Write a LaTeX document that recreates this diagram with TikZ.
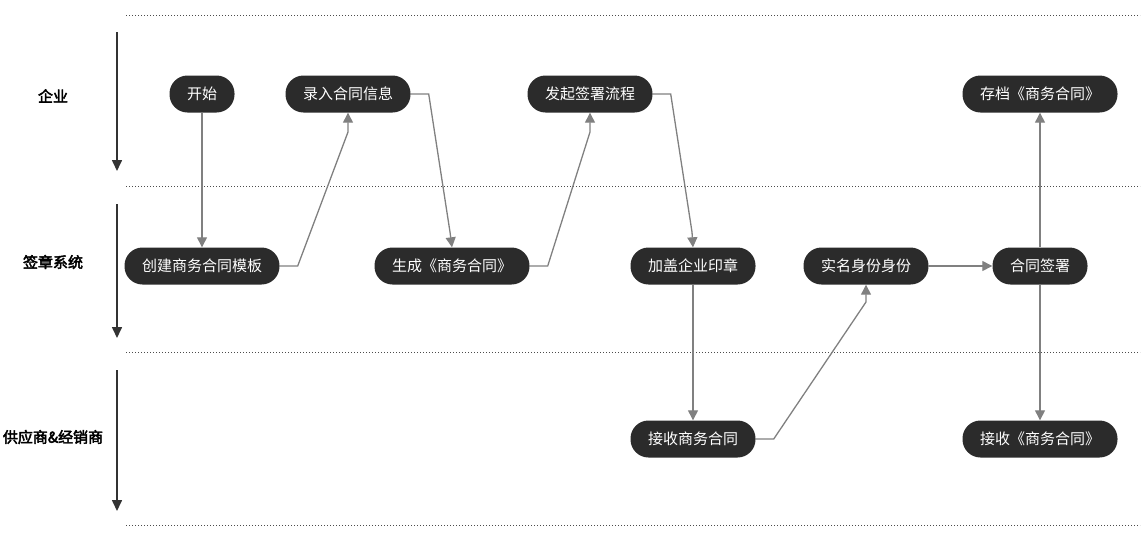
\documentclass[tikz,border=0pt]{standalone}
\usepackage{fontspec}
\setmainfont{Noto Sans CJK SC}
\newfontfamily\cjkb[AutoFakeBold=3]{Noto Sans CJK SC}
\usetikzlibrary{arrows.meta}
\definecolor{boxfill}{HTML}{2B2B2B}
\definecolor{conn}{HTML}{808080}
\definecolor{lanearr}{HTML}{333333}
\tikzset{
  stepbox/.style={rectangle, rounded corners=18pt, fill=boxfill, text=white, font=\fontsize{15pt}{17pt}\selectfont, minimum height=37pt, inner xsep=17.5pt, inner ysep=0pt},
  flow/.style={draw=conn, line width=1.3pt, -{Triangle[width=10pt,length=10pt]}},
  lane/.style={draw=lanearr, line width=1.6pt, -{Triangle[width=10pt,length=11pt]}},
  sep/.style={draw=black!70, line width=1pt, dotted},
  lanelabel/.style={font=\cjkb\bfseries\fontsize{15pt}{17pt}\selectfont, text=black}
}
\begin{document}
\begin{tikzpicture}[x=1pt,y=-1pt]
\useasboundingbox (0,0) rectangle (1142,536);
% separators
\coordinate (s1a) at (126,15); \coordinate (s1b) at (1140,15);
\coordinate (s2a) at (126,186); \coordinate (s2b) at (1140,186);
\coordinate (s3a) at (126,352); \coordinate (s3b) at (1140,352);
\coordinate (s4a) at (126,525); \coordinate (s4b) at (1140,525);
\draw[sep] (s1a) -- (s1b);
\draw[sep] (s2a) -- (s2b);
\draw[sep] (s3a) -- (s3b);
\draw[sep] (s4a) -- (s4b);
% lane arrows
\coordinate (l1a) at (117,32); \coordinate (l1b) at (117,171);
\coordinate (l2a) at (117,204); \coordinate (l2b) at (117,338);
\coordinate (l3a) at (117,370); \coordinate (l3b) at (117,511);
\draw[lane] (l1a) -- (l1b);
\draw[lane] (l2a) -- (l2b);
\draw[lane] (l3a) -- (l3b);
% lane labels
\node[lanelabel] (lab1) at (53,96) {企业};
\node[lanelabel] (lab2) at (53,262) {签章系统};
\node[lanelabel] (lab3) at (53,437) {供应商\&经销商};
% nodes
\node[stepbox] (start) at (202,94) {开始};
\node[stepbox] (luru) at (348,94) {录入合同信息};
\node[stepbox] (faqi) at (590,94) {发起签署流程};
\node[stepbox] (cundang) at (1040,94) {存档《商务合同》};
\node[stepbox] (chuangjian) at (202,266) {创建商务合同模板};
\node[stepbox] (shengcheng) at (452,266) {生成《商务合同》};
\node[stepbox] (jiagai) at (693,266) {加盖企业印章};
\node[stepbox] (shiming) at (866,266) {实名身份身份};
\node[stepbox] (qianshu) at (1040,266) {合同签署};
\node[stepbox] (jieshou1) at (693,439) {接收商务合同};
\node[stepbox] (jieshou2) at (1040,439) {接收《商务合同》};
% connectors
\draw[flow] (start) -- (chuangjian);
\draw[flow] (chuangjian.east) -- ++(18,0) -- (348,132) -- (luru.south);
\draw[flow] (luru.east) -- ++(18,0) -- (450,232) -- (shengcheng.north);
\draw[flow] (shengcheng.east) -- ++(18,0) -- (590,132) -- (faqi.south);
\draw[flow] (faqi.east) -- ++(18,0) -- (692,232) -- (jiagai.north);
\draw[flow] (jiagai) -- (jieshou1);
\draw[flow] (jieshou1.east) -- ++(18,0) -- (866,302) -- (shiming.south);
\draw[flow] (shiming) -- (qianshu);
\draw[flow] (qianshu) -- (cundang);
\draw[flow] (qianshu) -- (jieshou2);
\end{tikzpicture}
\end{document}
